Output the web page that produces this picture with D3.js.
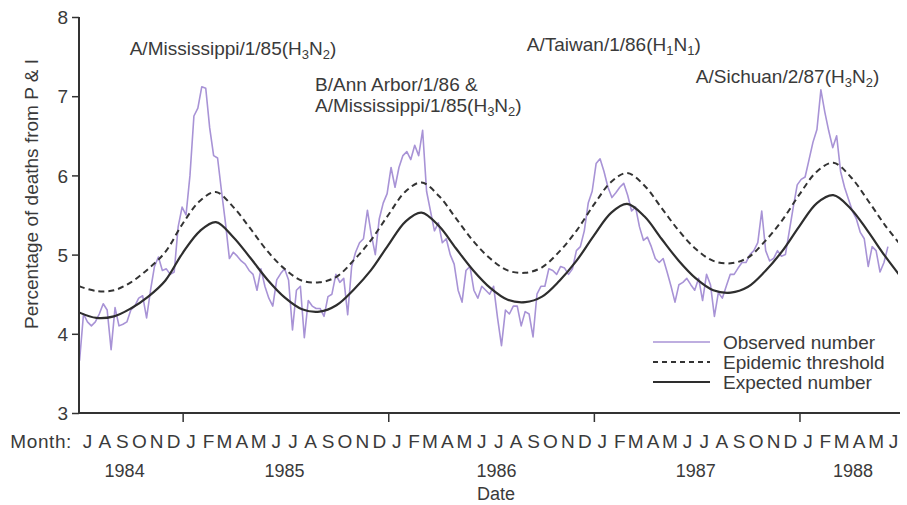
<!DOCTYPE html>
<html>
<head>
<meta charset="utf-8">
<script src="https://cdn.jsdelivr.net/npm/d3@7"></script>
<style>
  body { margin: 0; background: #fff; }
  text { font-family: "Liberation Sans", Arial, Helvetica, sans-serif; fill: #3a3a3a; }
</style>
</head>
<body>
<div id="chart"></div>
<script>
// weekly observed percentage of deaths from P & I, starting first week of July 1984
var observed = [
  3.66, 4.25, 4.15, 4.1, 4.15, 4.25, 4.38, 4.3, 3.8, 4.33,
  4.1, 4.12, 4.15, 4.3, 4.35, 4.45, 4.48, 4.2, 4.55, 4.85,
  4.97, 4.8, 4.82, 4.75, 4.78, 5.35, 5.6, 5.5, 6.0, 6.75,
  6.85, 7.12, 7.1, 6.6, 6.25, 6.22, 5.8, 5.4, 4.95, 5.03,
  4.98, 4.92, 4.88, 4.8, 4.75, 4.55, 4.82, 4.6, 4.45, 4.35,
  4.68, 4.76, 4.82, 4.68, 4.05, 4.55, 4.6, 3.95, 4.42, 4.35,
  4.32, 4.32, 4.22, 4.47, 4.5, 4.75, 4.65, 4.7, 4.24, 4.85,
  5.03, 5.15, 5.2, 5.56, 5.25, 5.0, 5.45, 5.65, 5.77, 6.1,
  5.85, 6.1, 6.25, 6.3, 6.2, 6.38, 6.25, 6.57, 5.8, 5.55,
  5.3, 5.4, 5.15, 5.2, 5.0, 4.88, 4.55, 4.4, 4.8, 4.85,
  4.55, 4.45, 4.6, 4.55, 4.5, 4.6, 4.2, 3.85, 4.3, 4.25,
  4.35, 4.35, 4.1, 4.28, 4.25, 3.96, 4.5, 4.6, 4.6, 4.82,
  4.8, 4.75, 4.85, 4.83, 4.75, 4.82, 5.05, 5.1, 5.3, 5.65,
  5.8, 6.15, 6.21, 6.05, 5.85, 5.72, 5.78, 5.85, 5.9, 5.75,
  5.55, 5.6, 5.35, 5.18, 5.22, 5.1, 4.95, 4.9, 4.95, 4.78,
  4.6, 4.4, 4.62, 4.65, 4.7, 4.62, 4.55, 4.7, 4.42, 4.75,
  4.62, 4.22, 4.52, 4.45, 4.6, 4.75, 4.75, 4.83, 4.9, 4.9,
  5.0, 5.05, 5.15, 5.55, 5.05, 4.92, 4.95, 5.05, 4.98, 5.0,
  5.3, 5.6, 5.88, 5.95, 5.98, 6.2, 6.42, 6.58, 7.08, 6.8,
  6.56, 6.35, 6.5, 6.05, 5.85, 5.7, 5.55, 5.45, 5.28, 5.2,
  4.85, 5.1, 5.05, 4.78, 4.9, 5.1
];

// monthly values (1st of each month, July 1984 .. July 1988)
var expected = [
  4.27, 4.20, 4.22, 4.32, 4.47, 4.67, 5.02, 5.30, 5.41, 5.22, 4.96, 4.68,
  4.46, 4.31, 4.28, 4.36, 4.56, 4.80, 5.12, 5.42, 5.53, 5.36, 5.08, 4.80,
  4.58, 4.43, 4.40, 4.47, 4.67, 4.92, 5.24, 5.53, 5.64, 5.48, 5.20, 4.92,
  4.70, 4.55, 4.52, 4.59, 4.79, 5.04, 5.36, 5.65, 5.75, 5.58, 5.30, 4.98,
  4.70
];
var threshold = [
  4.60, 4.54, 4.55, 4.65, 4.82, 5.03, 5.39, 5.68, 5.79, 5.60, 5.33, 5.04,
  4.82, 4.67, 4.65, 4.72, 4.93, 5.18, 5.50, 5.80, 5.91, 5.74, 5.46, 5.17,
  4.95, 4.80, 4.77, 4.84, 5.04, 5.30, 5.63, 5.92, 6.03, 5.87, 5.59, 5.30,
  5.07, 4.92, 4.89, 4.96, 5.17, 5.43, 5.76, 6.05, 6.16, 5.98, 5.69, 5.37,
  5.10
];

var monthLetters = ["J", "F", "M", "A", "M", "J", "J", "A", "S", "O", "N", "D"];
var years = ["1984", "1985", "1986", "1987", "1988"];
var yTicks = [3, 4, 5, 6, 7, 8];

// strain labels; parts between | are subscripts
var strainLines = [
  ["A/Mississippi/1/85(H|3|N|2|)"],
  ["B/Ann Arbor/1/86 &", "A/Mississippi/1/85(H|3|N|2|)"],
  ["A/Taiwan/1/86(H|1|N|1|)"],
  ["A/Sichuan/2/87(H|3|N|2|)"]
];
var strainDates = [new Date(1984, 8, 29), new Date(1985, 7, 24), new Date(1986, 8, 4), new Date(1987, 6, 1)];
var strainLevels = [7.52, 7.07, 7.57, 7.17];

var width = 907, height = 505;
var margin = { top: 17, right: 5, bottom: 92, left: 79 };

var start = new Date(1984, 6, 1), end = new Date(1988, 6, 1);

var x = d3.scaleTime()
    .domain([start, end])
    .range([margin.left, 902]);

var y = d3.scaleLinear()
    .domain([3, 8])
    .range([height - margin.bottom, margin.top]);

var svg = d3.select('#chart')
    .append('svg')
    .attr('width', width)
    .attr('height', height);

var weekDates = observed.map(function (d, i) { return d3.timeDay.offset(new Date(1984, 6, 2), 7 * i); });
var monthDates = d3.timeMonth.range(start, d3.timeMonth.offset(end, 1));

svg.append('clipPath').attr('id', 'clip')
  .append('rect')
    .attr('x', margin.left).attr('y', 0)
    .attr('width', 898 - margin.left).attr('height', height);

var plot = svg.append('g').attr('clip-path', 'url(#clip)');

var smooth = d3.line()
    .x(function (d, i) { return x(monthDates[i]); })
    .y(function (d) { return y(d); })
    .curve(d3.curveCatmullRom);

plot.append('path')
    .datum(observed)
    .attr('fill', 'none')
    .attr('stroke', '#a893d6')
    .attr('stroke-width', 1.6)
    .attr('stroke-linejoin', 'round')
    .attr('d', d3.line()
        .x(function (d, i) { return x(weekDates[i]); })
        .y(function (d) { return y(d); }));

plot.append('path')
    .datum(threshold)
    .attr('fill', 'none')
    .attr('stroke', '#333')
    .attr('stroke-width', 2)
    .attr('stroke-dasharray', '6,4')
    .attr('d', smooth);

plot.append('path')
    .datum(expected)
    .attr('fill', 'none')
    .attr('stroke', '#2e2e2e')
    .attr('stroke-width', 2.2)
    .attr('d', smooth);

// y axis
var yAxis = svg.append('g')
    .attr('transform', 'translate(' + margin.left + ',0)')
    .call(d3.axisLeft(y).tickValues(yTicks).tickSize(7).tickPadding(4).tickFormat(d3.format('d')));
yAxis.select('.domain').attr('stroke', '#333').attr('stroke-width', 2).attr('d', 'M0,' + y(8) + 'V' + y(3));
yAxis.selectAll('.tick line').attr('stroke', '#333').attr('stroke-width', 1.5);
yAxis.selectAll('.tick text').style('font-size', '19px').attr('fill', '#3a3a3a').attr('dy', '0.35em');

// x axis line with year ticks
var xAxis = svg.append('g')
    .attr('transform', 'translate(0,' + y(3) + ')')
    .call(d3.axisBottom(x)
        .tickValues([1985, 1986, 1987, 1988].map(function (yr) { return new Date(yr, 0, 1); }))
        .tickSize(9)
        .tickFormat(''));
xAxis.select('.domain').attr('stroke', '#333').attr('stroke-width', 2).attr('d', 'M' + margin.left + ',0H900');
xAxis.selectAll('.tick line').attr('stroke', '#333').attr('stroke-width', 1.5);

svg.append('text')
    .attr('x', 72).attr('y', 448)
    .attr('text-anchor', 'end')
    .style('font-size', '19px')
    .style('letter-spacing', '0.6px')
    .text('Month:');

svg.selectAll('.month')
    .data(monthDates.slice(0, 48))
    .enter().append('text')
    .attr('class', 'month')
    .attr('x', function (d) { return x(d3.timeDay.offset(d, 15)); })
    .attr('y', 448)
    .attr('text-anchor', 'middle')
    .style('font-size', '19px')
    .text(function (d) { return monthLetters[d.getMonth()]; });

var yearMid = [new Date(1984, 8, 20), new Date(1985, 6, 1), new Date(1986, 6, 12), new Date(1987, 6, 1), new Date(1988, 3, 5)];
svg.selectAll('.year')
    .data(years)
    .enter().append('text')
    .attr('class', 'year')
    .attr('x', function (d, i) { return x(yearMid[i]); })
    .attr('y', 477)
    .attr('text-anchor', 'middle')
    .style('font-size', '18px')
    .text(function (d) { return d; });

svg.append('text')
    .attr('x', 496).attr('y', 500)
    .attr('text-anchor', 'middle')
    .style('font-size', '18px')
    .text('Date');

svg.append('text')
    .attr('transform', 'translate(38,194) rotate(-90)')
    .attr('text-anchor', 'middle')
    .style('font-size', '19px')
    .text('Percentage of deaths from P & I');

// strain annotations, with subscripts
strainLines.forEach(function (lines, k) {
  lines.forEach(function (line, j) {
    var t = svg.append('text')
        .attr('x', x(strainDates[k]))
        .attr('y', y(strainLevels[k]) + j * 21)
        .style('font-size', '19px');
    line.split('|').forEach(function (part, p) {
      if (part === '') return;
      var ts = t.append('tspan').text(part);
      if (p % 2 === 1) ts.attr('dy', 4).style('font-size', '13px');
      else if (p > 0) ts.attr('dy', -4);
    });
  });
});

// legend
var legendItems = ['Observed number', 'Epidemic threshold', 'Expected number'];
var legendStyle = [
  { stroke: '#a893d6', dash: null, w: 1.6 },
  { stroke: '#333', dash: '5,4', w: 2 },
  { stroke: '#2e2e2e', dash: null, w: 2.2 }
];
var legend = svg.append('g').attr('transform', 'translate(653,342)');
var row = legend.selectAll('g')
    .data(legendItems)
    .enter().append('g')
    .attr('transform', function (d, i) { return 'translate(0,' + i * 20 + ')'; });
row.append('line')
    .attr('x1', 0).attr('x2', 57)
    .attr('stroke', function (d, i) { return legendStyle[i].stroke; })
    .attr('stroke-width', function (d, i) { return legendStyle[i].w; })
    .attr('stroke-dasharray', function (d, i) { return legendStyle[i].dash; });
row.append('text')
    .attr('x', 70).attr('dy', '0.35em')
    .style('font-size', '19px')
    .text(function (d) { return d; });
</script>
</body>
</html>
